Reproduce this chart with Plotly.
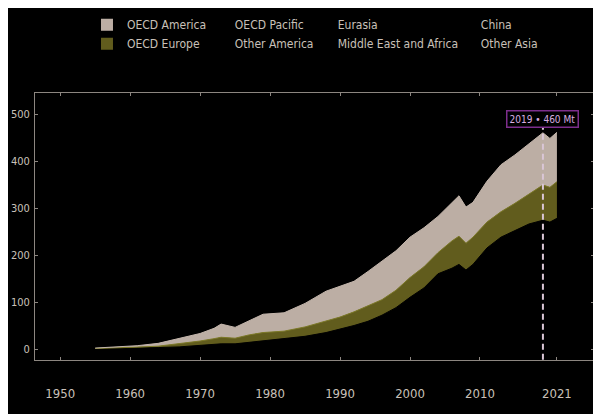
import plotly.graph_objects as go

years = [1955, 1958, 1961, 1964, 1967, 1970, 1972, 1973, 1975, 1977, 1979, 1982,
         1985, 1988, 1990, 1992, 1994, 1996, 1998, 2000, 2002, 2004, 2006, 2007,
         2008, 2009, 2011, 2013, 2015, 2017, 2019, 2020, 2021]

# Mt of plastics use by region
oecd_america = [1, 2, 3, 6, 11, 16, 22, 28, 23, 30, 39, 39, 50, 63, 66, 65, 73, 83,
                84, 86, 83, 77, 80, 86, 77, 74, 87, 100, 103, 107, 111, 104, 105]
oecd_europe = [0.5, 1, 2, 3, 6.5, 10, 13, 14, 12, 16, 18, 17, 20, 25, 26, 29, 33, 33,
               37, 42, 45, 45, 58, 60, 57, 58, 55, 54, 58, 64, 75, 74, 78]
oecd_pacific = [0.2, 0.4, 0.8, 1.2, 1.8, 3, 3.8, 4.5, 4.3, 5.3, 6.2, 7, 8.5, 10.5, 12, 13,
                14.5, 16, 16.5, 17, 17.5, 18, 18.5, 19, 17.5, 17, 18.5, 19, 19, 19.5, 20, 19, 19.5]
other_america = [0.1, 0.1, 0.2, 0.3, 0.5, 0.8, 1, 1.2, 1.2, 1.5, 1.8, 2.2, 2.6, 3.3, 3.8, 4.5,
                 5.2, 6.2, 7.2, 8.5, 9, 10.5, 11.5, 12, 11.5, 12, 14, 15, 15.5, 16, 16.5, 15.5, 16.5]
eurasia = [0.1, 0.2, 0.4, 0.6, 0.8, 1.2, 1.5, 1.8, 1.9, 2.3, 2.7, 3.2, 3.8, 4.5, 4.6, 3.8,
           3, 2.8, 3, 3.5, 4, 4.8, 5.5, 6, 6, 5.8, 6.8, 7.5, 7.5, 8, 8.5, 8.3, 8.8]
middle_east_africa = [0.05, 0.1, 0.2, 0.3, 0.5, 0.8, 1, 1.3, 1.4, 1.8, 2.3, 3, 4, 5, 6, 7,
                      8.5, 10, 12, 14.5, 17, 20, 23, 24.5, 23.5, 25, 30, 34, 37, 40, 42, 41, 43]
china = [0.03, 0.1, 0.2, 0.3, 0.4, 0.6, 0.8, 1, 1.1, 1.5, 2, 3, 4.5, 7, 9, 12, 15, 21, 28,
         40, 50, 66, 70, 73, 68, 76, 96, 110, 117, 125, 128, 129, 131]
other_asia = [0.02, 0.1, 0.2, 0.3, 0.5, 0.6, 0.9, 1.2, 1.1, 1.6, 2, 2.6, 3.6, 4.7, 6.6, 9.7,
              12.8, 16, 21.3, 26.5, 32.5, 40.7, 43.5, 45.5, 41.5, 44.2, 49.7, 52.5, 56, 57.5,
              59, 57.2, 59.2]

x_ticks = [1950, 1960, 1970, 1980, 1990, 2000, 2010, 2021]
peak_year = 2019
peak_label = "2019 • 460 Mt"

FONT = "DejaVu Sans Condensed, Liberation Sans Narrow, Liberation Sans, sans-serif"
TXT = "#c9c0b9"
AXIS = "#8c8680"

# bottom of the stack first
regions = [
    ("Other Asia", other_asia, "#000000", "legend4"),
    ("China", china, "#000000", "legend4"),
    ("Middle East and Africa", middle_east_africa, "#000000", "legend3"),
    ("Eurasia", eurasia, "#000000", "legend3"),
    ("Other America", other_america, "#000000", "legend2"),
    ("OECD Pacific", oecd_pacific, "#000000", "legend2"),
    ("OECD Europe", oecd_europe, "#615c1d", "legend"),
    ("OECD America", oecd_america, "#bcaea4", "legend"),
]
edge = {"OECD Europe": "#7d7a26", "OECD America": "#c4b6ac"}

fig = go.Figure()
for name, vals, col, leg in regions:
    fig.add_trace(go.Scatter(x=years, y=vals, name=name, stackgroup="one",
                             mode="lines", fillcolor=col,
                             line=dict(color=edge.get(name, col), width=1),
                             showlegend=False, hoverinfo="x+y+name"))

# square swatches for the legend
for name, vals, col, leg in regions:
    fig.add_trace(go.Scatter(x=[None], y=[None], name=name, mode="markers",
                             marker=dict(symbol="square", size=12, color=col),
                             legend=leg, showlegend=True))

fig.add_shape(type="line", x0=peak_year, x1=peak_year, y0=-23, y1=472,
              line=dict(color="#d9c6d6", width=2, dash="6px,4px"))
fig.add_annotation(x=peak_year, y=489, text=peak_label, showarrow=False,
                   font=dict(family=FONT, size=10, color="#d8aee0"),
                   bordercolor="#7d2e8c", borderwidth=1.5, borderpad=2, bgcolor="#000000")

leg_style = dict(orientation="v", yanchor="top", xanchor="left", y=1.31,
                 traceorder="reversed", bgcolor="rgba(0,0,0,0)",
                 font=dict(family=FONT, size=12, color=TXT), itemwidth=30)

# page has an 8px body margin, so the figure is 8px smaller each way
fig.update_layout(
    width=593, height=406,
    paper_bgcolor="#000000", plot_bgcolor="#000000",
    margin=dict(l=27, r=7, t=85, b=54, autoexpand=False),
    font=dict(family=FONT, size=13, color=TXT),
    legend=dict(leg_style, x=0.093),
    legend2=dict(leg_style, x=0.286),
    legend3=dict(leg_style, x=0.470),
    legend4=dict(leg_style, x=0.726),
    xaxis=dict(range=[1946.4, 2026.3], tickvals=x_ticks, showgrid=False, zeroline=False,
               showline=True, linecolor=AXIS, linewidth=1, mirror="allticks",
               ticks="inside", ticklen=3, tickcolor=AXIS, ticklabelstandoff=21,
               tickfont=dict(family=FONT, size=13, color=TXT)),
    yaxis=dict(range=[-23.4, 544.7], tickvals=[0, 100, 200, 300, 400, 500], showgrid=False,
               zeroline=False, showline=True, linecolor=AXIS, linewidth=1, mirror="allticks",
               ticks="inside", ticklen=3, tickcolor=AXIS, ticklabelstandoff=2,
               tickfont=dict(family=FONT, size=11, color=TXT)),
)

fig.write_html("out.html")
